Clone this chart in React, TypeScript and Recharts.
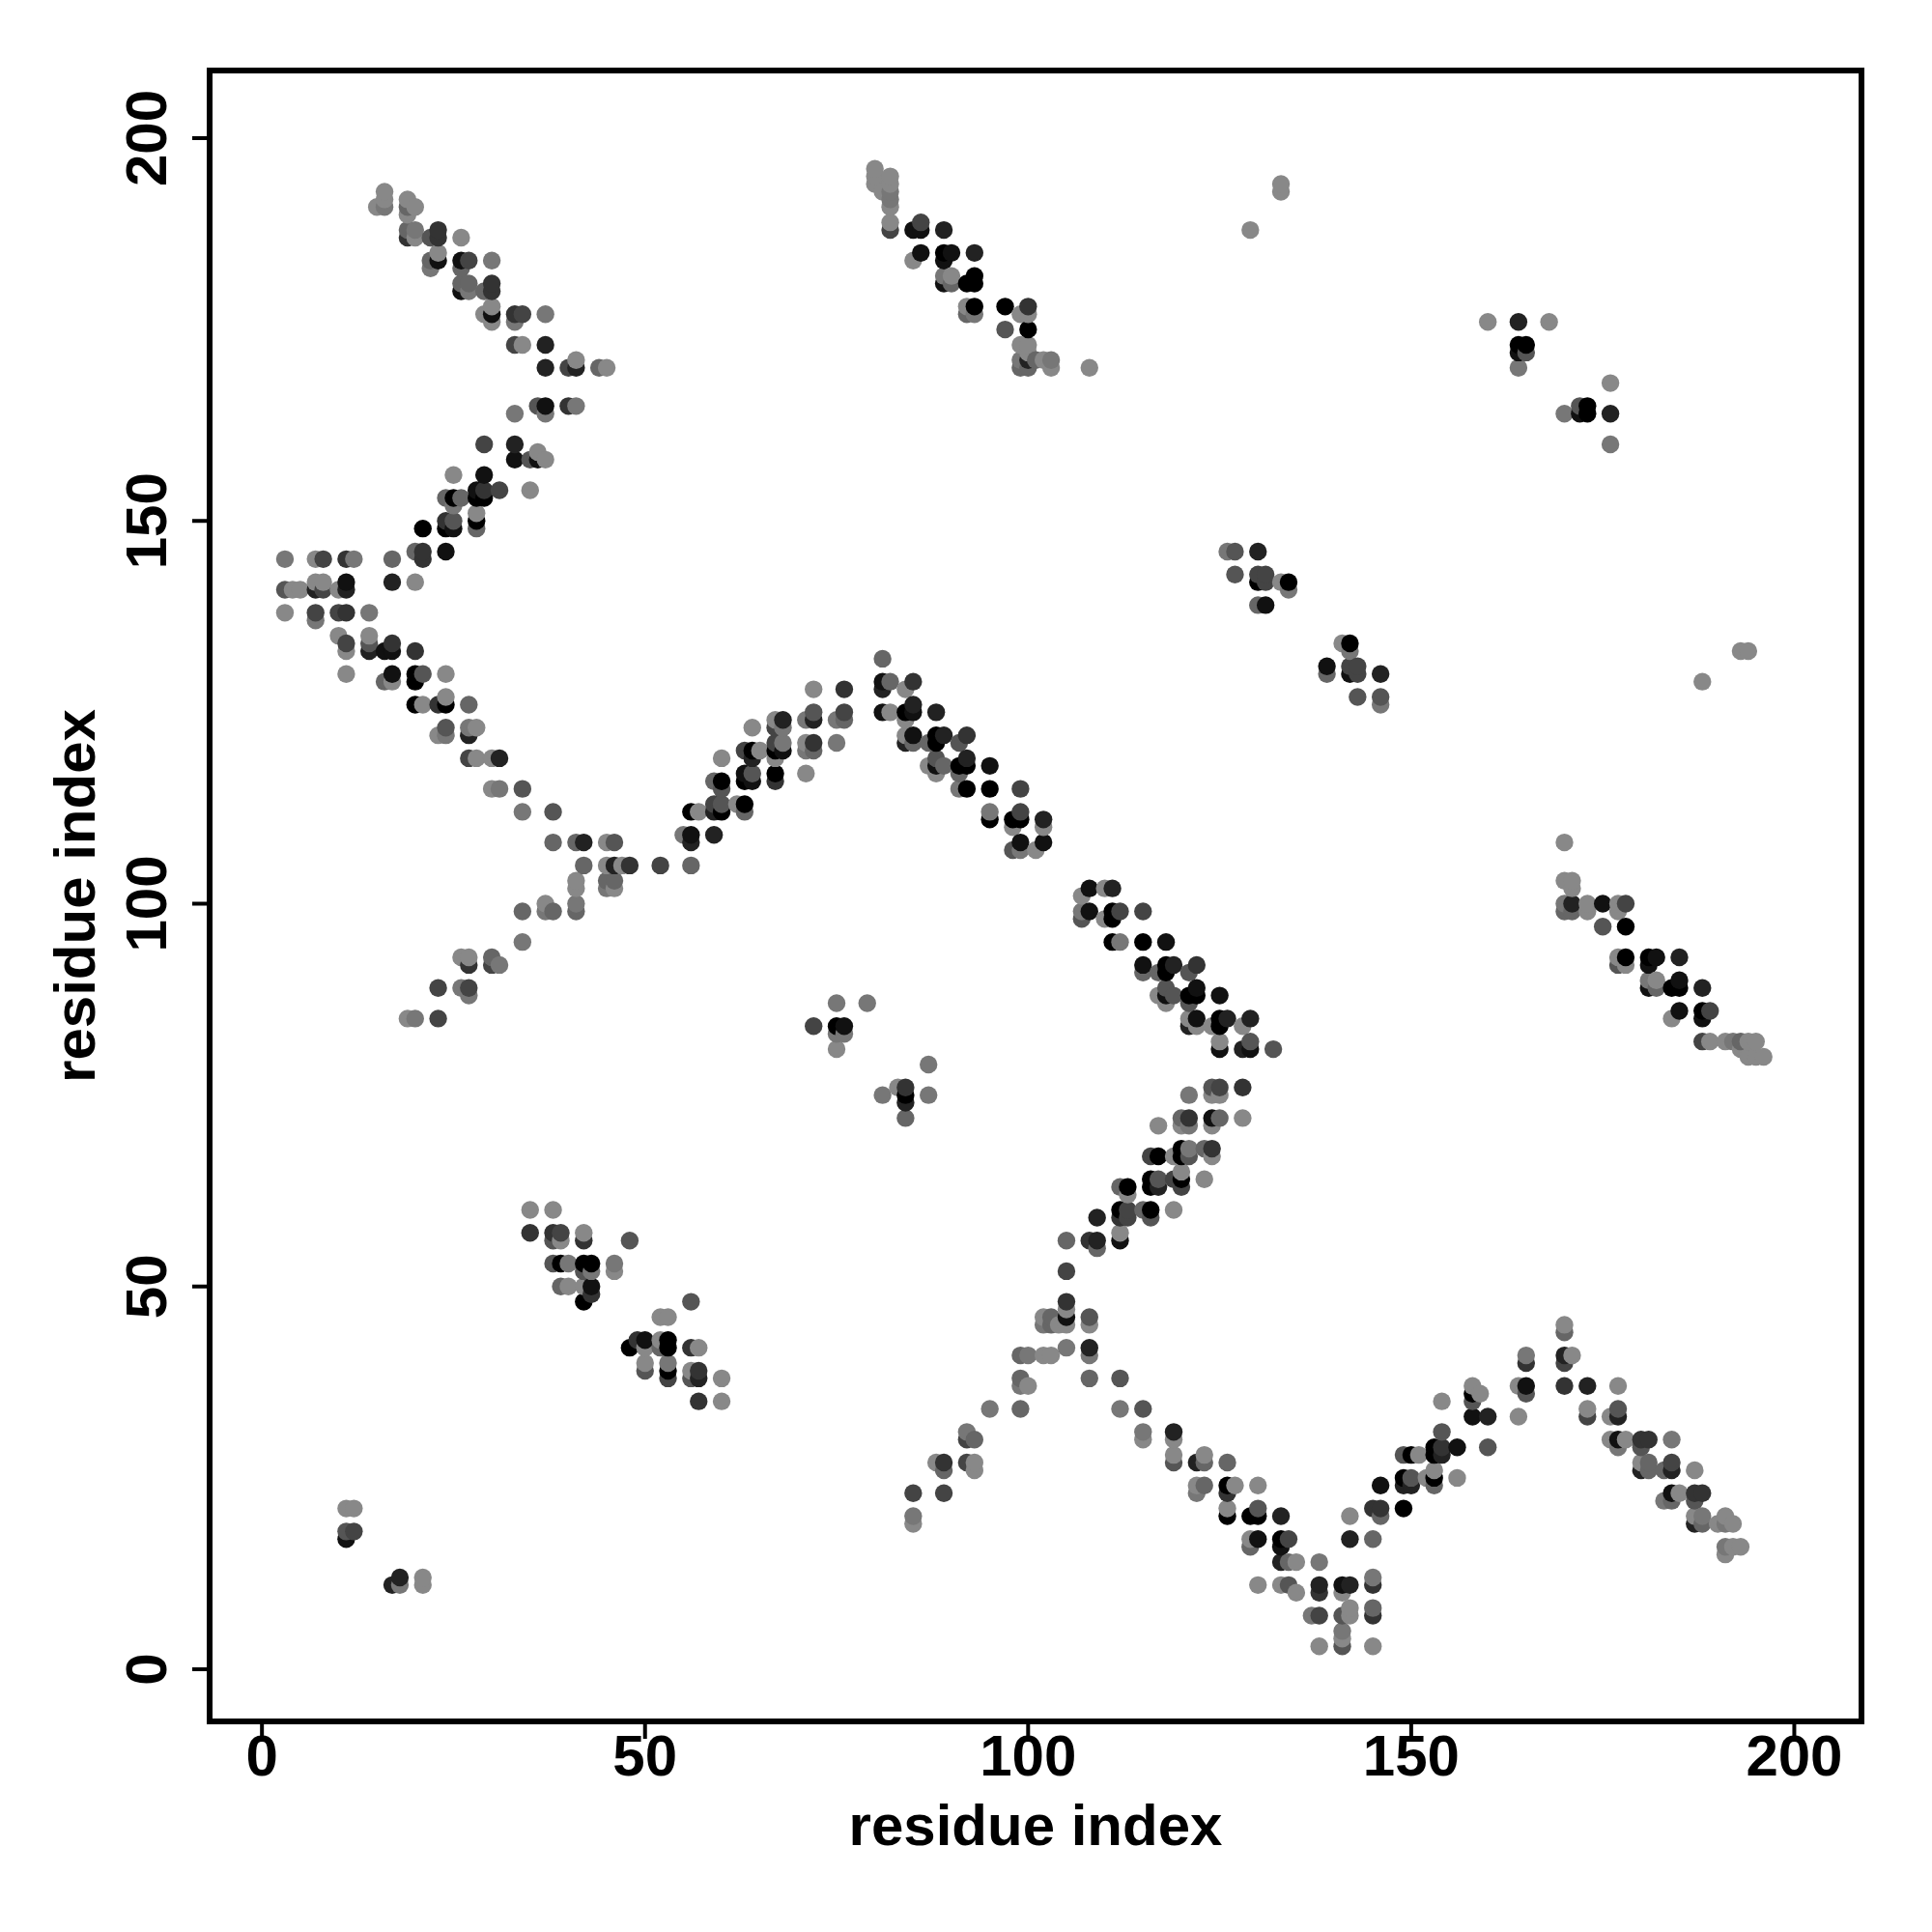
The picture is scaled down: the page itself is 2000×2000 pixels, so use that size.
import { ReferenceArea, Scatter, ScatterChart, XAxis, YAxis } from "recharts"

// each contact is [residue i, residue j, grey level 0 (black) to 8 (light)]
type Contact = [number, number, number]

const tickValues = [0, 50, 100, 150, 200]
const axisName = "residue index"

const upperLeftArm: Contact[] = [
  [15, 191, 8], [16, 191, 7], [16, 192, 8], [16, 193, 8], [19, 190, 8], [19, 191, 6], [19, 192, 8], [20, 191, 8],
  [19, 188, 6], [19, 187, 3], [20, 188, 7], [20, 187, 8], [22, 187, 5], [23, 188, 3], [23, 187, 3], [26, 187, 8],
  [23, 185, 8], [23, 184, 1], [22, 184, 6], [22, 183, 7], [26, 184, 1], [27, 184, 4], [26, 183, 6], [30, 184, 7],
  [26, 181, 6], [26, 180, 1], [27, 181, 6], [27, 180, 7], [29, 180, 6], [30, 181, 3], [30, 180, 3],
  [29, 177, 8], [30, 178, 8], [30, 177, 1], [30, 176, 8], [33, 177, 3], [34, 177, 4], [33, 176, 7], [37, 177, 7],
  [33, 173, 4], [34, 173, 8], [37, 173, 2], [37, 170, 2], [40, 170, 4], [41, 171, 8], [41, 170, 2], [44, 170, 6], [45, 170, 8],
  [36, 165, 5], [37, 165, 1], [37, 164, 7], [40, 165, 3], [41, 165, 7], [33, 164, 7],
  [29, 160, 4], [33, 160, 2], [33, 158, 1], [35, 158, 5], [36, 159, 8], [36, 158, 1], [37, 158, 8],
  [25, 156, 8], [29, 156, 1], [24, 153, 6], [25, 153, 0], [26, 153, 6], [25, 152, 7],
  [28, 154, 1], [29, 154, 3], [31, 154, 4], [35, 154, 8], [28, 153, 0], [29, 153, 0],
  [21, 149, 0], [24, 150, 3], [25, 150, 5], [24, 149, 0], [25, 149, 1], [28, 151, 8], [28, 150, 0], [28, 149, 6],
]

const leftElbow: Contact[] = [
  [20, 146, 6], [21, 146, 3], [21, 145, 3], [24, 146, 1],
  [3, 145, 7], [7, 145, 8], [8, 145, 4], [11, 145, 3], [12, 145, 7], [17, 145, 6],
  [3, 141, 5], [4, 141, 8], [5, 141, 8], [7, 142, 8], [8, 142, 8], [7, 141, 2], [8, 141, 4], [10, 141, 8],
  [11, 142, 1], [11, 141, 2], [17, 142, 2], [20, 142, 8],
  [3, 138, 8], [7, 138, 4], [7, 137, 7], [10, 138, 4], [11, 138, 3], [14, 138, 7],
  [10, 135, 8], [11, 134, 4], [11, 133, 8], [14, 135, 8], [14, 134, 5], [14, 133, 2], [16, 133, 1], [17, 134, 3], [17, 133, 1], [20, 133, 3],
  [11, 130, 8], [17, 130, 1], [16, 129, 6], [17, 129, 8], [20, 130, 0], [20, 129, 0], [21, 130, 5], [24, 130, 8],
  [20, 126, 0], [21, 126, 8], [23, 126, 3], [24, 127, 8], [24, 126, 0], [27, 126, 6],
  [23, 122, 8], [24, 122, 7], [24, 123, 5], [27, 123, 7], [28, 123, 8], [27, 122, 2],
  [27, 119, 4], [28, 119, 8], [30, 119, 8], [31, 119, 2], [30, 115, 8], [31, 115, 7], [34, 115, 5], [34, 112, 7], [38, 112, 5],
]

const centreLeftCross: Contact[] = [
  [38, 108, 6], [41, 108, 6], [42, 108, 2], [45, 108, 8], [46, 108, 5],
  [42, 105, 6], [45, 105, 8], [46, 105, 2], [47, 105, 8], [48, 105, 3], [52, 105, 4], [56, 105, 6],
  [45, 103, 6], [46, 103, 6], [45, 102, 7], [46, 102, 8], [41, 103, 8], [41, 102, 8],
  [34, 99, 6], [37, 100, 8], [37, 99, 7], [38, 99, 6], [41, 100, 7], [41, 99, 6], [34, 95, 7],
  [26, 93, 8], [27, 93, 8], [27, 92, 3], [30, 93, 6], [30, 92, 4], [31, 92, 7],
  [23, 89, 4], [26, 89, 7], [27, 89, 4], [27, 88, 7], [19, 85, 8], [20, 85, 7], [23, 85, 4],
]

const middleRise: Contact[] = [
  [55, 109, 7], [56, 109, 1], [56, 108, 2], [59, 109, 2], [56, 112, 0], [57, 112, 8],
  [59, 113, 4], [59, 112, 2], [60, 113, 5], [60, 112, 0], [62, 113, 8], [63, 113, 0], [63, 112, 6],
  [59, 116, 6], [60, 116, 0], [60, 115, 5], [60, 119, 8],
  [63, 117, 1], [63, 116, 0], [64, 117, 5], [64, 116, 1], [67, 117, 0], [67, 116, 3], [71, 117, 8],
  [63, 120, 4], [64, 120, 0], [64, 119, 2], [65, 120, 8], [67, 120, 0], [67, 121, 4], [68, 121, 7], [68, 120, 1], [67, 119, 8],
  [71, 121, 8], [72, 121, 3], [71, 120, 7], [72, 120, 6], [75, 121, 7],
  [64, 123, 8], [67, 123, 4], [67, 124, 8], [68, 124, 2], [68, 123, 7],
  [71, 124, 7], [72, 124, 2], [72, 125, 5], [72, 128, 8], [75, 124, 7], [76, 124, 6], [76, 125, 4], [76, 128, 3],
]

const middleIslands: Contact[] = [
  [75, 87, 7], [79, 87, 7], [72, 84, 4], [75, 84, 0], [76, 84, 1], [75, 83, 7], [76, 83, 7], [75, 81, 8],
  [81, 75, 7], [83, 76, 8], [84, 76, 3], [84, 75, 0], [84, 74, 2], [87, 79, 7], [87, 75, 7], [84, 72, 6],
]

const upperCentreFall: Contact[] = [
  [81, 132, 6], [81, 129, 1], [81, 128, 2], [82, 129, 6], [84, 128, 8], [85, 129, 3],
  [81, 125, 1], [82, 125, 8], [84, 125, 0], [85, 126, 2], [85, 125, 1], [88, 125, 2], [84, 124, 8],
  [84, 122, 8], [84, 121, 2], [85, 122, 1], [85, 121, 6], [87, 121, 6], [88, 122, 0], [88, 121, 0], [89, 122, 2], [91, 121, 5], [92, 122, 3],
  [87, 118, 8], [88, 119, 5], [88, 118, 1], [88, 117, 8], [89, 118, 6], [91, 118, 0], [92, 119, 2], [92, 118, 0], [91, 117, 6], [95, 118, 1],
  [91, 115, 7], [92, 115, 0], [95, 115, 0], [99, 115, 4], [95, 112, 7], [95, 111, 0], [98, 111, 0], [99, 112, 4], [99, 111, 0], [98, 110, 8],
  [102, 111, 2], [102, 110, 8], [99, 108, 1], [98, 107, 5], [99, 107, 7], [101, 107, 8], [102, 108, 1],
]

const centreFall: Contact[] = [
  [108, 102, 1], [110, 102, 8], [111, 102, 2], [107, 101, 8], [108, 99, 1], [107, 99, 7], [107, 98, 5], [110, 98, 8],
  [111, 99, 0], [111, 98, 0], [112, 99, 4], [115, 99, 4], [111, 95, 0], [112, 95, 7], [115, 95, 0], [118, 95, 1],
  [115, 92, 1], [115, 91, 6], [117, 91, 6], [118, 92, 0], [118, 91, 0], [119, 92, 2], [121, 91, 5], [122, 92, 3],
  [117, 88, 8], [118, 89, 5], [118, 88, 1], [118, 87, 8], [119, 88, 5], [121, 88, 0], [122, 89, 1], [122, 88, 0], [121, 87, 5], [125, 88, 1],
  [121, 85, 8], [121, 84, 2], [122, 85, 1], [122, 84, 8], [124, 84, 8], [125, 85, 0], [125, 84, 0], [126, 85, 2], [128, 84, 8], [129, 85, 2],
  [125, 82, 8], [125, 81, 1], [128, 81, 2], [129, 82, 5], [129, 81, 1], [132, 81, 5],
]

const topCentreFall: Contact[] = [
  [80, 196, 8], [80, 195, 8], [80, 194, 8], [81, 193, 8], [82, 195, 8], [82, 194, 8], [82, 193, 7], [82, 192, 7], [82, 191, 8], [82, 189, 8], [82, 188, 4],
  [85, 188, 1], [86, 189, 4], [86, 188, 1], [89, 188, 2], [85, 184, 8], [86, 185, 1], [89, 185, 0], [89, 184, 1], [90, 185, 1], [93, 185, 2],
  [89, 182, 7], [90, 182, 8], [89, 181, 1], [90, 181, 6], [92, 181, 0], [93, 182, 0], [93, 181, 0],
  [92, 178, 8], [93, 178, 0], [92, 177, 6], [93, 177, 7], [97, 178, 0], [97, 175, 5], [99, 177, 8], [100, 178, 3], [100, 177, 8], [100, 175, 0],
  [99, 173, 8], [100, 173, 8], [100, 172, 8], [99, 171, 7], [100, 171, 2], [101, 171, 6], [102, 171, 8], [103, 171, 7], [99, 170, 6], [100, 170, 6], [103, 170, 8], [108, 170, 8],
]

const rightUpperIslands: Contact[] = [
  [133, 194, 8], [133, 193, 8], [129, 188, 8],
  [160, 176, 8], [164, 176, 2], [168, 176, 8], [164, 173, 0], [165, 173, 0], [164, 172, 1], [165, 172, 5], [164, 170, 7],
  [176, 168, 8], [170, 164, 7], [172, 165, 5], [173, 165, 0], [172, 164, 1], [173, 164, 0], [176, 164, 2], [176, 160, 7],
  [126, 146, 7], [127, 146, 5], [130, 146, 2], [127, 143, 5], [130, 143, 4], [131, 143, 4], [130, 142, 0], [131, 142, 4],
  [133, 142, 8], [134, 142, 0], [134, 141, 7], [130, 139, 6], [131, 139, 1],
  [141, 134, 8], [142, 134, 0], [142, 133, 7], [139, 131, 1], [139, 130, 6], [142, 131, 4], [143, 131, 4], [142, 130, 1], [143, 130, 4], [146, 130, 2],
  [143, 127, 5], [146, 127, 5], [146, 126, 7], [193, 133, 8], [194, 133, 8], [188, 129, 8],
]

const rightFall: Contact[] = [
  [170, 108, 8], [170, 103, 8], [171, 103, 8], [171, 102, 8], [170, 100, 7], [170, 99, 6], [171, 100, 2], [171, 99, 6],
  [173, 100, 8], [173, 99, 8], [175, 100, 1], [177, 100, 8], [177, 99, 8], [178, 100, 4], [175, 97, 5], [178, 97, 0],
  [177, 93, 8], [178, 93, 0], [177, 92, 5], [178, 92, 8], [181, 93, 0], [182, 93, 1], [181, 92, 1], [185, 93, 2],
  [181, 90, 7], [182, 90, 8], [181, 89, 1], [182, 89, 6], [184, 89, 0], [185, 90, 1], [185, 89, 0], [188, 89, 2],
  [185, 86, 1], [184, 85, 8], [188, 86, 0], [188, 85, 1], [189, 86, 4],
  [188, 82, 4], [189, 82, 8], [191, 82, 8], [192, 82, 7], [193, 82, 6], [194, 82, 8], [195, 82, 8], [193, 81, 8], [194, 80, 8], [195, 80, 8], [196, 80, 8],
]

const lowerLeftIslands: Contact[] = [
  [35, 60, 8], [38, 60, 8], [35, 57, 3], [38, 57, 3], [39, 57, 4], [38, 56, 5], [39, 56, 8], [42, 57, 8], [42, 56, 3], [48, 56, 5],
  [38, 53, 5], [39, 53, 0], [40, 53, 7], [42, 53, 0], [43, 53, 0], [42, 52, 5], [43, 52, 7], [46, 53, 7], [46, 52, 8],
  [39, 50, 6], [40, 50, 8], [42, 50, 8], [43, 50, 1], [43, 49, 3], [42, 48, 0], [56, 48, 5], [52, 46, 8], [53, 46, 8],
  [48, 42, 0], [49, 43, 3], [50, 43, 1], [50, 42, 8], [52, 43, 8], [52, 42, 6], [53, 43, 0], [53, 42, 0], [56, 42, 3], [57, 42, 8],
  [50, 40, 8], [50, 39, 5], [53, 40, 7], [53, 39, 0], [53, 38, 4], [56, 39, 8], [57, 39, 3], [56, 38, 5], [57, 38, 2], [60, 38, 8], [57, 35, 3], [60, 35, 8],
  [11, 21, 8], [12, 21, 8], [11, 18, 5], [12, 18, 4], [11, 17, 1], [17, 11, 2], [18, 12, 2], [18, 11, 7], [21, 12, 8], [21, 11, 8],
]

const lowerCentreRise: Contact[] = [
  [121, 75, 7], [124, 76, 5], [125, 76, 4], [124, 75, 8], [125, 75, 8], [128, 76, 3],
  [117, 71, 8], [120, 72, 6], [121, 72, 3], [120, 71, 8], [121, 71, 7], [124, 72, 1], [125, 72, 6], [124, 71, 8], [128, 72, 8],
  [116, 67, 4], [117, 67, 0], [119, 67, 8], [120, 68, 0], [121, 68, 7], [120, 67, 0], [121, 67, 5], [123, 68, 6], [124, 68, 3], [124, 67, 8],
  [120, 65, 8], [120, 64, 0], [119, 64, 4], [120, 63, 4], [123, 64, 8], [116, 64, 0], [117, 64, 5], [116, 63, 0], [117, 63, 2],
  [112, 63, 6], [113, 63, 0], [113, 62, 8], [112, 60, 0], [113, 60, 4], [112, 59, 3], [113, 59, 4], [115, 60, 6], [116, 60, 0], [116, 59, 5], [119, 60, 8],
  [109, 59, 2], [105, 56, 6], [108, 56, 3], [109, 56, 2], [109, 55, 6], [112, 57, 8], [112, 56, 1], [105, 52, 4],
]

const lowerCentrePeak: Contact[] = [
  [105, 48, 3], [105, 47, 8], [105, 46, 1], [105, 45, 8], [102, 46, 8], [103, 46, 6], [102, 45, 7], [103, 45, 6], [104, 45, 8], [108, 46, 5], [108, 45, 8],
  [99, 41, 6], [100, 41, 7], [102, 41, 8], [103, 41, 8], [105, 42, 7], [108, 42, 2], [108, 41, 7],
  [99, 38, 6], [99, 37, 7], [100, 37, 8], [108, 38, 6], [112, 38, 5], [95, 34, 7], [99, 34, 6], [112, 34, 7], [115, 34, 5],
  [92, 31, 7], [92, 30, 4], [93, 30, 6], [115, 31, 7], [115, 30, 8], [119, 31, 2], [119, 30, 8],
  [88, 27, 8], [89, 27, 3], [89, 26, 6], [92, 27, 4], [93, 27, 8], [93, 26, 8],
  [119, 28, 8], [119, 27, 5], [122, 27, 2], [123, 28, 8], [123, 27, 6], [126, 27, 6],
  [85, 23, 4], [89, 23, 4], [122, 24, 8], [122, 23, 7], [123, 24, 6], [126, 24, 0], [126, 23, 3], [127, 24, 8], [130, 24, 8],
  [85, 20, 7], [85, 19, 8], [126, 21, 8], [126, 20, 0], [129, 20, 0], [130, 21, 5], [130, 20, 0], [133, 20, 2],
  [129, 17, 8], [130, 17, 1], [129, 16, 6], [133, 17, 0], [133, 16, 1], [134, 17, 4], [133, 14, 2], [134, 14, 6], [135, 14, 8],
  [130, 11, 8], [133, 11, 8], [134, 11, 5], [135, 10, 8],
]

const bottomApex: Contact[] = [
  [138, 14, 7], [138, 11, 2], [138, 10, 3], [137, 7, 7], [138, 7, 4], [138, 3, 8],
  [141, 11, 1], [142, 11, 2], [141, 10, 8], [141, 7, 5], [142, 8, 8], [142, 7, 8], [141, 5, 7], [141, 4, 8], [141, 3, 5],
  [145, 12, 7], [145, 11, 3], [145, 8, 6], [145, 7, 3], [145, 3, 8], [142, 20, 8], [142, 17, 2], [145, 17, 6],
]

const lowerRightPeak: Contact[] = [
  [145, 21, 3], [146, 21, 3], [146, 20, 6], [149, 21, 0], [146, 24, 1], [149, 25, 0], [149, 24, 2], [150, 25, 5], [150, 24, 2],
  [152, 25, 8], [153, 26, 8], [153, 25, 0], [153, 24, 6], [156, 25, 8], [149, 28, 5], [150, 28, 0], [151, 28, 8],
  [153, 29, 0], [154, 31, 5], [153, 28, 0], [154, 29, 3], [154, 28, 2], [156, 29, 1], [160, 29, 5],
  [154, 35, 8], [158, 37, 8], [159, 36, 8], [158, 36, 0], [158, 35, 5], [158, 33, 1], [160, 33, 2], [164, 33, 8],
  [164, 37, 8], [165, 37, 1], [165, 36, 5], [165, 41, 7], [165, 40, 3], [170, 45, 8], [170, 44, 6], [170, 41, 2], [171, 41, 8], [170, 40, 4],
  [170, 37, 3], [173, 37, 2], [177, 37, 8], [173, 34, 8], [173, 33, 4], [176, 33, 8], [177, 34, 5], [177, 33, 2],
  [176, 30, 8], [177, 30, 1], [178, 30, 8], [177, 29, 7], [180, 30, 3], [181, 30, 3], [180, 29, 5], [184, 30, 7],
  [180, 27, 8], [181, 27, 6], [180, 26, 2], [181, 26, 6], [183, 26, 6], [184, 27, 4], [184, 26, 2], [187, 26, 8],
  [183, 22, 7], [184, 23, 1], [184, 22, 6], [185, 23, 8], [187, 23, 3], [188, 23, 3], [187, 22, 5],
  [187, 20, 8], [187, 19, 2], [188, 20, 7], [188, 19, 6], [190, 19, 8], [191, 20, 8], [191, 19, 7], [192, 19, 8],
  [191, 16, 7], [192, 16, 8], [193, 16, 8], [191, 15, 8],
]

// later points sit on top: ordered by i, then j
const contacts = [
  ...upperLeftArm, ...leftElbow, ...centreLeftCross, ...middleRise, ...middleIslands, ...upperCentreFall,
  ...centreFall, ...topCentreFall, ...rightUpperIslands, ...rightFall, ...lowerLeftIslands,
  ...lowerCentreRise, ...lowerCentrePeak, ...bottomApex, ...lowerRightPeak,
]
  .map(([i, j, level]) => ({ i, j, level }))
  .sort((a, b) => a.i - b.i || a.j - b.j)

const xDomain: [number, number] = [-6.83, 208.77]
const yDomain: [number, number] = [-6.81, 208.83]
const font = "'Liberation Sans', Arial, sans-serif"
const grey = (level: number) => `#${String(level).repeat(3)}`

function ContactDot({ cx, cy, payload }: any) {
  return <circle cx={cx} cy={cy} r={9.2} fill={grey(payload.level)} />
}

function XTick({ x, y, payload }: any) {
  return (
    <text x={x} y={y + 36} textAnchor="middle" fontFamily={font} fontWeight={700} fontSize={60} fill="#000">
      {payload.value}
    </text>
  )
}

function YTick({ x, y, payload }: any) {
  return (
    <text
      x={x - 25}
      y={y}
      transform={`rotate(-90 ${x - 25} ${y})`}
      textAnchor="middle"
      fontFamily={font}
      fontWeight={700}
      fontSize={60}
      fill="#000"
    >
      {payload.value}
    </text>
  )
}

const labelStyle = { fontFamily: font, fontWeight: 700, fontSize: 60, fill: "#000" }

export default function App() {
  return (
    <div style={{ position: "absolute", left: 0, top: 0, width: 2000, height: 2000, background: "#fff" }}>
      <ScatterChart width={2000} height={2000} margin={{ top: 73, right: 73, bottom: 0, left: 0 }}>
        <XAxis
          type="number"
          dataKey="i"
          domain={xDomain}
          ticks={tickValues}
          allowDataOverflow
          height={218}
          axisLine={false}
          tickSize={18}
          tickLine={{ stroke: "#000", strokeWidth: 4 }}
          tick={<XTick />}
          label={{ value: axisName, position: "insideBottom", offset: 90, style: labelStyle }}
        />
        <YAxis
          type="number"
          dataKey="j"
          domain={yDomain}
          ticks={tickValues}
          allowDataOverflow
          width={217}
          axisLine={false}
          tickSize={18}
          tickLine={{ stroke: "#000", strokeWidth: 4 }}
          tick={<YTick />}
          label={{ value: axisName, angle: -90, position: "insideLeft", offset: 77, style: { ...labelStyle, textAnchor: "middle" } }}
        />
        <Scatter data={contacts} isAnimationActive={false} shape={<ContactDot />} />
        <ReferenceArea
          x1={xDomain[0]}
          x2={xDomain[1]}
          y1={yDomain[0]}
          y2={yDomain[1]}
          fill="none"
          stroke="#000"
          strokeWidth={6}
          ifOverflow="visible"
        />
      </ScatterChart>
    </div>
  )
}
